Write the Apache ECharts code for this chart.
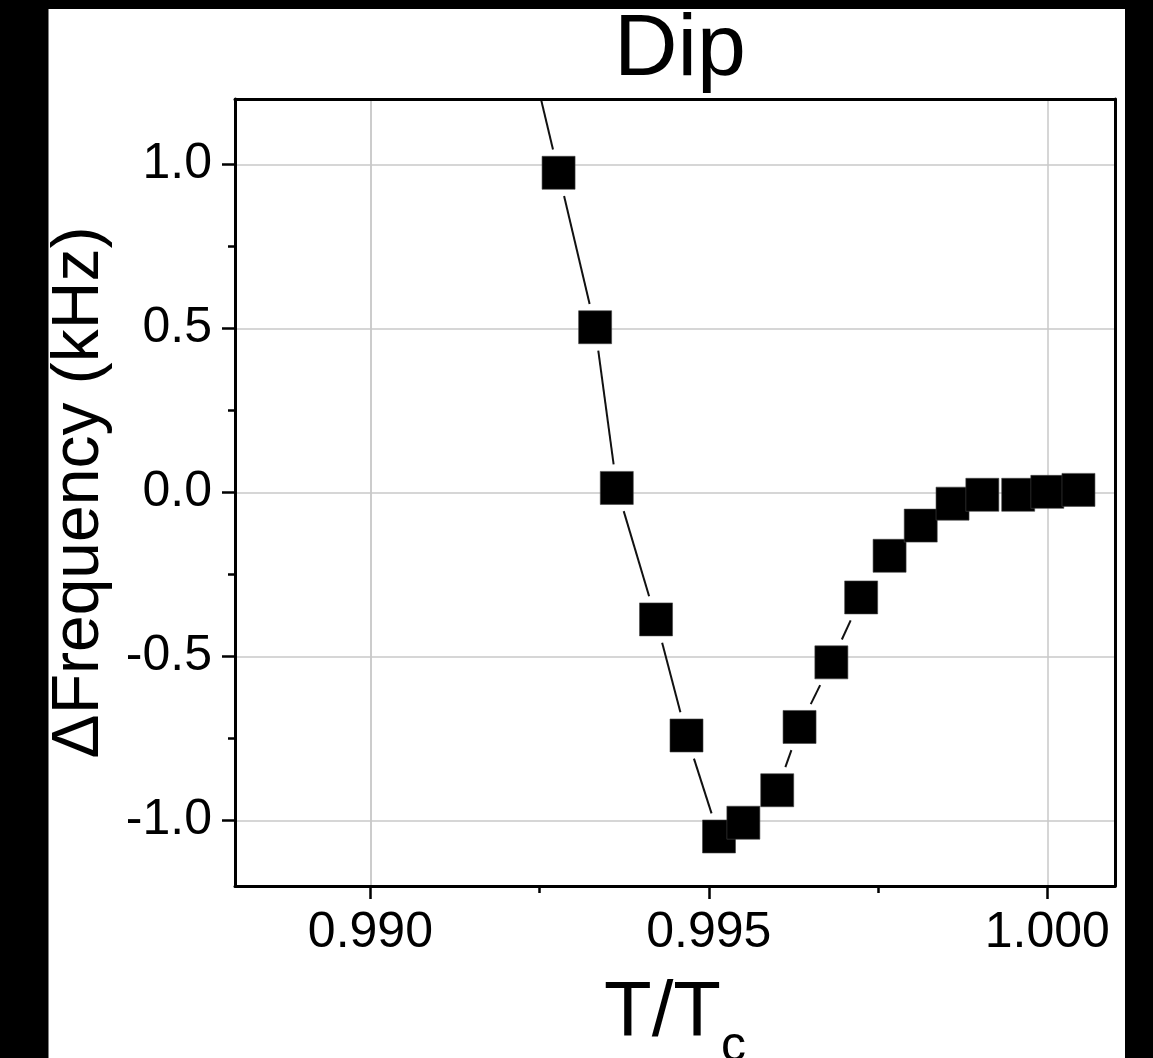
<!DOCTYPE html>
<html><head><meta charset="utf-8">
<script src="https://cdn.jsdelivr.net/npm/echarts@6/dist/echarts.min.js"></script>
<style>
html,body{margin:0;padding:0;background:#000;width:1153px;height:1058px;overflow:hidden}
#panel{position:absolute;left:48px;top:9px;width:1077px;height:1049px;background:#fff;border-left:1px solid #808080;box-sizing:border-box}
#chart{width:1076px;height:1049px}
</style></head><body><div id="panel"><div id="chart"></div></div>
<script>
// T/Tc (first point lies above the plotted range; only its connecting line shows)
const tRatio = [0.99223, 0.99278, 0.99332, 0.99364, 0.99422, 0.99467, 0.99515, 0.99551, 0.99601, 0.99634,
                0.99681, 0.99725, 0.99767, 0.99813, 0.99860, 0.99904, 0.99957, 1.00000, 1.00046];
// ΔFrequency (kHz)
const dFreq  = [1.45, 0.975, 0.504, 0.014, -0.387, -0.741, -1.049, -1.007, -0.908, -0.715,
                -0.518, -0.320, -0.193, -0.101, -0.034, -0.007, -0.007, 0.002, 0.008];
const xMajorTicks = [0.990, 0.995, 1.000];
const xMinorTicks = [0.9925, 0.9975];
const yMajorTicks = [-1.0, -0.5, 0.0, 0.5, 1.0];
const yMinorTicks = [-0.75, -0.25, 0.25, 0.75];

const FONT = "'Liberation Sans', Arial, sans-serif";
const SYM = 33, GAP = 7;
const pts = tRatio.map((x, i) => [x, dFreq[i]]);
const chart = echarts.init(document.getElementById('chart'));
const XR = {min: 0.988, max: 1.001}, YR = {min: -1.2, max: 1.2};
const hidden = {axisLine:{show:false, onZero:false}, axisLabel:{show:false}, axisTick:{show:false}, splitLine:{show:false}};
const frameLine = {show:true, onZero:false, lineStyle:{color:'#000', width:3}};

chart.setOption({
  animation: false,
  backgroundColor: '#fff',
  graphic: [{
    type: 'text', x: 631, y: 42, z: 100,
    style: {text: 'Dip', font: "88px " + FONT, fill: '#000', textAlign: 'center', textVerticalAlign: 'middle'}
  }],
  grid: {left: 186, top: 90, right: 10, bottom: 172, show: false, containLabel: false, outerBoundsMode: 'none'},
  xAxis: [
    Object.assign({}, hidden, {
      type: 'value', position: 'bottom', ...XR, z: 10,
      axisLine: frameLine,
      axisTick: {show: true, inside: false, length: 13, customValues: xMajorTicks, lineStyle: {color:'#000', width: 2.5}},
      axisLabel: {show: true, customValues: xMajorTicks, margin: 22, color: '#000', fontSize: 50, fontFamily: FONT,
                  formatter: v => v.toFixed(3)},
      name: '{m|T/T}{s|c}', nameLocation: 'middle', nameGap: 89,
      nameTextStyle: {color:'#000', fontFamily: FONT,
        rich: {m: {fontSize: 78, fontFamily: FONT, color:'#000', lineHeight: 84, verticalAlign: 'top'},
               s: {fontSize: 50, fontFamily: FONT, color:'#000', lineHeight: 97, verticalAlign: 'bottom'}}}
    }),
    Object.assign({}, hidden, {
      type: 'value', position: 'bottom', ...XR, z: 10,
      axisTick: {show: true, inside: false, length: 7, customValues: xMinorTicks, lineStyle: {color:'#000', width: 2.5}}
    }),
    Object.assign({}, hidden, {type: 'value', position: 'top', ...XR, z: 10, axisLine: frameLine})
  ],
  yAxis: [
    Object.assign({}, hidden, {
      type: 'value', position: 'left', ...YR, z: 10,
      axisLine: frameLine,
      axisTick: {show: true, inside: false, length: 13, customValues: yMajorTicks, lineStyle: {color:'#000', width: 2.5}},
      axisLabel: {show: true, customValues: yMajorTicks, margin: 23, color: '#000', fontSize: 50, fontFamily: FONT,
                  formatter: v => v.toFixed(1)},
      name: 'ΔFrequency (kHz)', nameLocation: 'middle', nameGap: 91, nameRotate: 90,
      nameTextStyle: {color:'#000', fontSize: 66, fontFamily: FONT, lineHeight: 70}
    }),
    Object.assign({}, hidden, {
      type: 'value', position: 'left', ...YR, z: 10,
      axisTick: {show: true, inside: false, length: 7, customValues: yMinorTicks, lineStyle: {color:'#000', width: 2.5}}
    }),
    Object.assign({}, hidden, {type: 'value', position: 'right', ...YR, z: 10, axisLine: frameLine})
  ],
  series: [
    {
      type: 'custom', xAxisIndex: 0, yAxisIndex: 0, z: 2, clip: true, silent: true,
      data: pts, encode: {x: 0, y: 1},
      renderItem: function (params, api) {
        const i = params.dataIndex;
        if (i >= pts.length - 1) return null;
        const p0 = api.coord(pts[i]), p1 = api.coord(pts[i + 1]);
        const dx = p1[0] - p0[0], dy = p1[1] - p0[1];
        const len = Math.hypot(dx, dy);
        const ux = dx / len, uy = dy / len;
        const edge = (SYM / 2) / Math.max(Math.abs(ux), Math.abs(uy)) + GAP;
        if (len <= 2 * edge) return null;
        return {
          type: 'line',
          shape: {x1: p0[0] + ux * edge, y1: p0[1] + uy * edge, x2: p1[0] - ux * edge, y2: p1[1] - uy * edge},
          style: {stroke: '#111', lineWidth: 2}
        };
      },
      markLine: {
        silent: true, symbol: 'none', z: 1, label: {show: false}, animation: false,
        lineStyle: {color: '#c8c8c8', width: 1.5, type: 'solid'},
        data: xMajorTicks.map(v => ({xAxis: v})).concat(yMajorTicks.map(v => ({yAxis: v})))
      }
    },
    {
      type: 'scatter', xAxisIndex: 0, yAxisIndex: 0, z: 3, clip: true,
      symbol: 'rect', symbolSize: SYM,
      itemStyle: {color: '#000', borderColor: '#444', borderWidth: 0.6, opacity: 1},
      data: pts
    }
  ]
});
</script></body></html>
